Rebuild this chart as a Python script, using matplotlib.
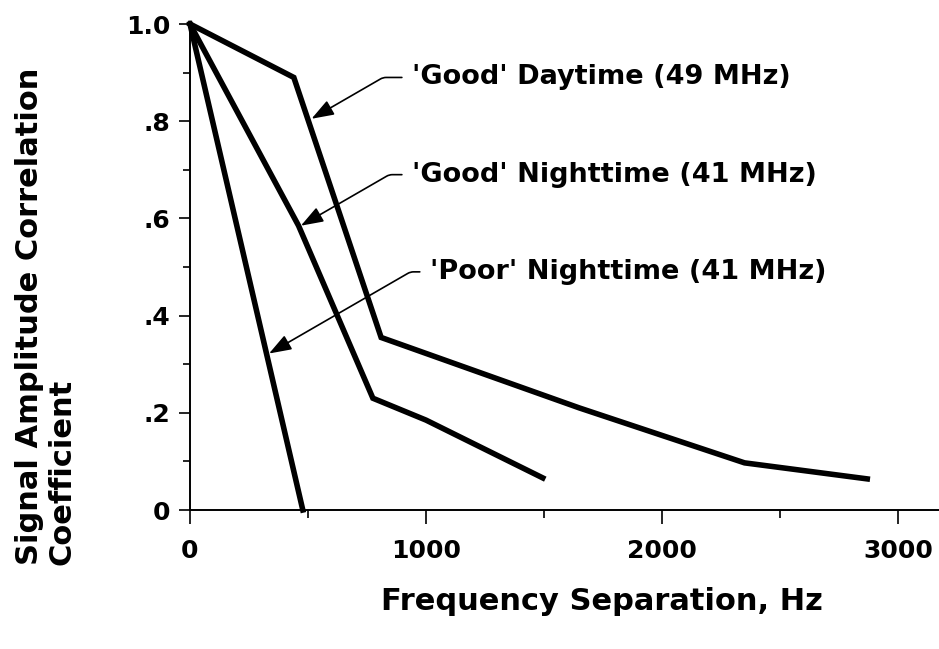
import matplotlib.pyplot as plt
from matplotlib.ticker import FixedLocator

# correlation vs frequency separation
freq_day = [0, 440, 810, 1650, 2350, 2870]
corr_day = [1.0, 0.89, 0.355, 0.21, 0.097, 0.064]

freq_good_night = [0, 460, 775, 1000, 1495]
corr_good_night = [1.0, 0.585, 0.23, 0.185, 0.066]

freq_poor_night = [0, 478]
corr_poor_night = [1.0, 0.0]

curve_labels = ["'Good' Daytime (49 MHz)",
                "'Good' Nighttime (41 MHz)",
                "'Poor' Nighttime (41 MHz)"]

x_ticks = [0, 1000, 2000, 3000]
x_ticklabels = ['0', '1000', '2000', '3000']
y_ticks = [0, 0.2, 0.4, 0.6, 0.8, 1.0]
y_ticklabels = ['0', '.2', '.4', '.6', '.8', '1.0']

plt.rcParams['font.family'] = ['DejaVu Sans']
plt.rcParams['font.weight'] = 'bold'

fig = plt.figure(figsize=(9.39, 6.49), dpi=100)
ax = fig.add_axes([190 / 939, 139 / 649, 1 - 190 / 939, 486 / 649])

lw = 4.0
ax.plot(freq_day, corr_day, color='black', lw=lw, solid_joinstyle='miter', clip_on=False)
ax.plot(freq_good_night, corr_good_night, color='black', lw=lw, solid_joinstyle='miter', clip_on=False)
ax.plot(freq_poor_night, corr_poor_night, color='black', lw=lw, solid_joinstyle='miter', clip_on=False)

ax.set_xlim(0, 3174)
ax.set_ylim(0, 1.0)

for s in ['top', 'right']:
    ax.spines[s].set_visible(False)
for s in ['left', 'bottom']:
    ax.spines[s].set_linewidth(1.4)

ax.xaxis.set_major_locator(FixedLocator(x_ticks))
ax.xaxis.set_minor_locator(FixedLocator([500, 1500, 2500]))
ax.yaxis.set_major_locator(FixedLocator(y_ticks))
ax.yaxis.set_minor_locator(FixedLocator([0.1, 0.3, 0.5, 0.7, 0.9]))
ax.set_xticklabels(x_ticklabels, fontsize=18, fontweight='bold')
ax.set_yticklabels(y_ticklabels, fontsize=18, fontweight='bold')
ax.tick_params(axis='x', which='major', length=10, width=1.2, pad=11)
ax.tick_params(axis='x', which='minor', length=6, width=1.2)
ax.tick_params(axis='y', which='major', length=8, width=1.2, pad=6)
ax.tick_params(axis='y', which='minor', length=5, width=1.2)

# leaders from each caption down to its curve
text_pos = [(939, 0.89), (939, 0.69), (1015, 0.49)]
tips = [(515, 0.805), (470, 0.585), (335, 0.322)]
for label, (tx, ty), (px, py) in zip(curve_labels, text_pos, tips):
    ax.annotate(label, xy=(px, py), xytext=(tx, ty), ha='left', va='center',
                fontsize=19.5, fontweight='bold',
                arrowprops=dict(arrowstyle='-|>,head_length=0.7,head_width=0.25',
                                color='black', lw=1.2, relpos=(0, 0.5),
                                shrinkA=5, shrinkB=0,
                                connectionstyle='angle,angleA=0,angleB=30,rad=3'))

ax.set_xlabel('Frequency Separation, Hz', fontsize=22, fontweight='bold')
ax.xaxis.set_label_coords(0.55, -0.158)
fig.text(46 / 939, 1 - 565 / 649, 'Signal Amplitude Correlation\nCoefficient',
         rotation=90, fontsize=22, fontweight='bold', ha='center', va='bottom',
         multialignment='left', linespacing=1.15)

fig.savefig('out.png', dpi=100)
